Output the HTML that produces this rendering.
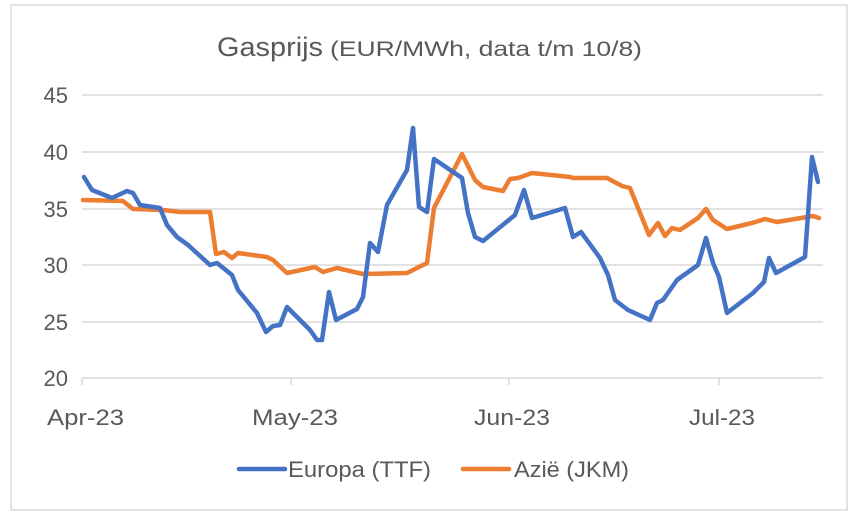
<!DOCTYPE html>
<html><head><meta charset="utf-8"><style>
body{margin:0;background:#fff;}
svg{display:block;font-family:"Liberation Sans",sans-serif;}
</style></head><body>
<svg width="858" height="517" viewBox="0 0 858 517" xmlns="http://www.w3.org/2000/svg">
<rect x="11" y="5" width="836" height="505" fill="#fff" stroke="#d9d9d9" stroke-width="1.5"/>
<text y="56" fill="#595959"><tspan x="217" font-size="27" textLength="106" lengthAdjust="spacingAndGlyphs">Gasprijs</tspan><tspan x="330" font-size="21" textLength="312" lengthAdjust="spacingAndGlyphs">(EUR/MWh, data t/m 10/8)</tspan></text>
<g stroke="#d9d9d9" stroke-width="1.5">
<line x1="82" y1="95" x2="823" y2="95"/>
<line x1="82" y1="152" x2="823" y2="152"/>
<line x1="82" y1="209" x2="823" y2="209"/>
<line x1="82" y1="265" x2="823" y2="265"/>
<line x1="82" y1="322" x2="823" y2="322"/>
<line x1="82" y1="378" x2="823" y2="378"/>
<line x1="82" y1="378" x2="82" y2="385"/>
<line x1="291" y1="378" x2="291" y2="385"/>
<line x1="509" y1="378" x2="509" y2="385"/>
<line x1="719" y1="378" x2="719" y2="385"/>
</g>
<g fill="#595959" font-size="22" text-anchor="end">
<text x="68" y="103">45</text><text x="68" y="160">40</text><text x="68" y="217">35</text>
<text x="68" y="273">30</text><text x="68" y="330">25</text><text x="68" y="386">20</text>
</g>
<g fill="#595959" font-size="22">
<text x="47" y="425" textLength="77" lengthAdjust="spacingAndGlyphs">Apr-23</text>
<text x="252" y="425" textLength="86" lengthAdjust="spacingAndGlyphs">May-23</text>
<text x="474" y="425" textLength="76" lengthAdjust="spacingAndGlyphs">Jun-23</text>
<text x="689" y="425" textLength="66" lengthAdjust="spacingAndGlyphs">Jul-23</text>
</g>
<polyline fill="none" stroke="#ed7d31" stroke-width="4.5" stroke-linejoin="round" stroke-linecap="round" points="83,200 123,201 133,209 163,210 180,212 210,212 216,254 224,252 232,258 238,253 267,257 273,260 287,273 315,267 323,272 337,268 363,274 407,273 427,263 434,208 462,154 475,180 483,187 503,191 510,179 518,178 532,173 570,177 573,178 607,178 622,186 630,188 649,235 658,223 665,236 672,228 680,230 698,218 706,209 713,220 727,229 752,223 765,219 777,222 813,216 819,218"/>
<polyline fill="none" stroke="#4472c4" stroke-width="4.5" stroke-linejoin="round" stroke-linecap="round" points="84,177 92,190 112,198 127,191 133,193 140,205 160,208 167,225 177,237 188,245 210,265 217,263 232,275 238,290 257,313 266,332 273,326 280,325 287,307 310,330 317,340 322,340 329,292 336,320 357,309 363,297 370,243 378,252 387,205 407,170 413,128 419,207 427,212 434,159 462,178 468,213 475,237 483,241 515,215 524,190 532,218 565,208 573,237 581,232 600,258 608,275 615,300 628,310 650,320 657,303 663,300 677,280 698,265 706,238 713,263 719,277 727,313 753,293 764,282 769,258 776,273 805,257 812,157 818,182"/>
<line x1="239" y1="469" x2="285" y2="469" stroke="#4472c4" stroke-width="4.5" stroke-linecap="round"/>
<text x="288" y="477" fill="#595959" font-size="22" textLength="143" lengthAdjust="spacingAndGlyphs">Europa (TTF)</text>
<line x1="463" y1="469" x2="509" y2="469" stroke="#ed7d31" stroke-width="4.5" stroke-linecap="round"/>
<text x="514" y="477" fill="#595959" font-size="22" textLength="115" lengthAdjust="spacingAndGlyphs">Azië (JKM)</text>
</svg>
</body></html>
